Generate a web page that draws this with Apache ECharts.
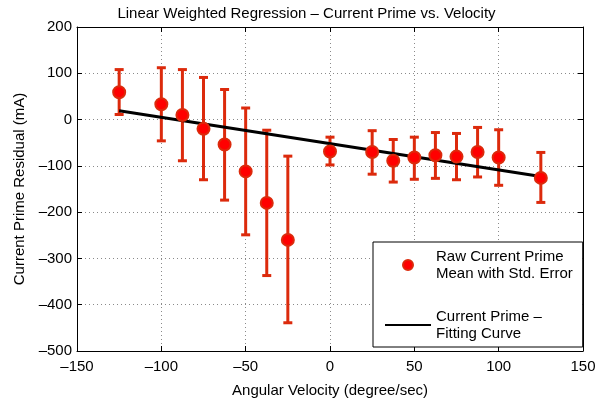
<!DOCTYPE html>
<html>
<head>
<meta charset="utf-8">
<script src="https://cdn.jsdelivr.net/npm/echarts@6/dist/echarts.min.js"></script>
<style>
  html, body { margin: 0; padding: 0; background: #fff; }
  #chart { width: 613px; height: 403px; }
</style>
</head>
<body>
<div id="chart"></div>
<script>
// 数据
const velocity = [-125, -100, -87.5, -75, -62.5, -50, -37.5, -25, 0, 25, 37.5, 50, 62.5, 75, 87.5, 100, 125];
const meanVals = [59, 33, 10, -20, -54, -112, -180, -260, -69, -70, -89, -82, -77, -80, -70, -82, -126];
const errHigh = [108, 112, 108, 91, 65, 25, -23, -79, -38, -24, -43, -38, -28, -30, -17, -22, -71];
const errLow = [11, -46, -89, -130, -174, -249, -337, -439, -98, -118, -135, -129, -127, -130, -124, -142, -179];
const fitX = [-125, 125];
const fitY = [19, -123];
const xTicks = [-150, 150, 50];
const yTicks = [-500, 200, 100];

const font = 'Liberation Sans, Arial, Helvetica, sans-serif';
const red = '#dc2a0c';
const seriesNames = ['Raw Current Prime\nMean with Std. Error', 'Current Prime –\nFitting Curve'];

function fmt(v) {
  return v < 0 ? '–' + Math.abs(v) : String(v);
}

const chart = echarts.init(document.getElementById('chart'));

const gridLine = { show: true, lineStyle: { color: '#8a8a8a', type: [1, 3], width: 1 } };
const boxLine = { show: true, onZero: false, lineStyle: { color: '#000', width: 1 } };
const inTick = { show: true, inside: true, length: 5, lineStyle: { color: '#000' } };

const option = {
  animation: false,
  textStyle: { fontFamily: font },
  title: {
    text: 'Linear Weighted Regression – Current Prime vs. Velocity',
    left: 'center',
    top: 1,
    textStyle: { fontSize: 15, fontWeight: 'normal', color: '#000', fontFamily: font }
  },
  grid: { left: 77, right: 30, top: 27, bottom: 51 },
  legend: {
    data: [
      { name: seriesNames[0] },
      // 图例中只画线，不画点
      { name: seriesNames[1], itemStyle: { opacity: 0 } }
    ],
    orient: 'vertical',
    left: 373,
    top: 242,
    padding: [6, 10, 5, 11],
    itemGap: 26,
    itemWidth: 46,
    itemHeight: 10,
    backgroundColor: '#fff',
    borderColor: '#000',
    borderWidth: 1,
    borderRadius: 0,
    selectedMode: false,
    textStyle: { fontSize: 15, lineHeight: 17, color: '#000', fontFamily: font }
  },
  xAxis: [{
    type: 'value',
    min: xTicks[0], max: xTicks[1], interval: xTicks[2],
    name: 'Angular Velocity (degree/sec)',
    nameLocation: 'middle',
    nameGap: 32,
    nameTextStyle: { fontSize: 15, color: '#000', fontFamily: font },
    axisLine: boxLine,
    axisTick: inTick,
    axisLabel: { fontSize: 15, color: '#000', margin: 8, formatter: fmt, fontFamily: font },
    splitLine: gridLine
  }, {
    type: 'value', position: 'top',
    min: xTicks[0], max: xTicks[1], interval: xTicks[2],
    axisLine: boxLine, axisTick: inTick,
    axisLabel: { show: false }, splitLine: { show: false }
  }],
  yAxis: [{
    type: 'value',
    min: yTicks[0], max: yTicks[1], interval: yTicks[2],
    name: 'Current Prime Residual (mA)',
    nameLocation: 'middle',
    nameGap: 44,
    nameTextStyle: { fontSize: 15, color: '#000', fontFamily: font },
    axisLine: boxLine,
    axisTick: inTick,
    axisLabel: { fontSize: 15, color: '#000', margin: 5, formatter: fmt, fontFamily: font },
    splitLine: gridLine
  }, {
    type: 'value', position: 'right',
    min: yTicks[0], max: yTicks[1], interval: yTicks[2],
    axisLine: boxLine, axisTick: inTick,
    axisLabel: { show: false }, splitLine: { show: false }
  }],
  series: [
    // 误差棒
    {
      type: 'custom',
      name: 'err',
      z: 2,
      data: velocity.map((x, i) => [x, errLow[i], errHigh[i]]),
      renderItem: function (params, api) {
        const lo = api.coord([api.value(0), api.value(1)]);
        const hi = api.coord([api.value(0), api.value(2)]);
        const w = 4.5;
        const style = { stroke: red, lineWidth: 3 };
        return {
          type: 'group',
          children: [
            { type: 'line', shape: { x1: lo[0], y1: lo[1], x2: hi[0], y2: hi[1] }, style: style },
            { type: 'line', shape: { x1: lo[0] - w, y1: lo[1], x2: lo[0] + w, y2: lo[1] }, style: style },
            { type: 'line', shape: { x1: hi[0] - w, y1: hi[1], x2: hi[0] + w, y2: hi[1] }, style: style }
          ]
        };
      }
    },
    // 拟合直线
    {
      type: 'line',
      name: seriesNames[1],
      z: 3,
      data: fitX.map((x, i) => [x, fitY[i]]),
      symbol: 'none',
      lineStyle: { color: '#000', width: 3 },
      itemStyle: { color: '#000' }
    },
    // 均值点
    {
      type: 'scatter',
      name: seriesNames[0],
      z: 4,
      data: velocity.map((x, i) => [x, meanVals[i]]),
      symbol: 'circle',
      symbolSize: 12,
      itemStyle: { color: '#ff0000', borderColor: red, borderWidth: 2, opacity: 1 }
    }
  ]
};

chart.setOption(option);
</script>
</body>
</html>
